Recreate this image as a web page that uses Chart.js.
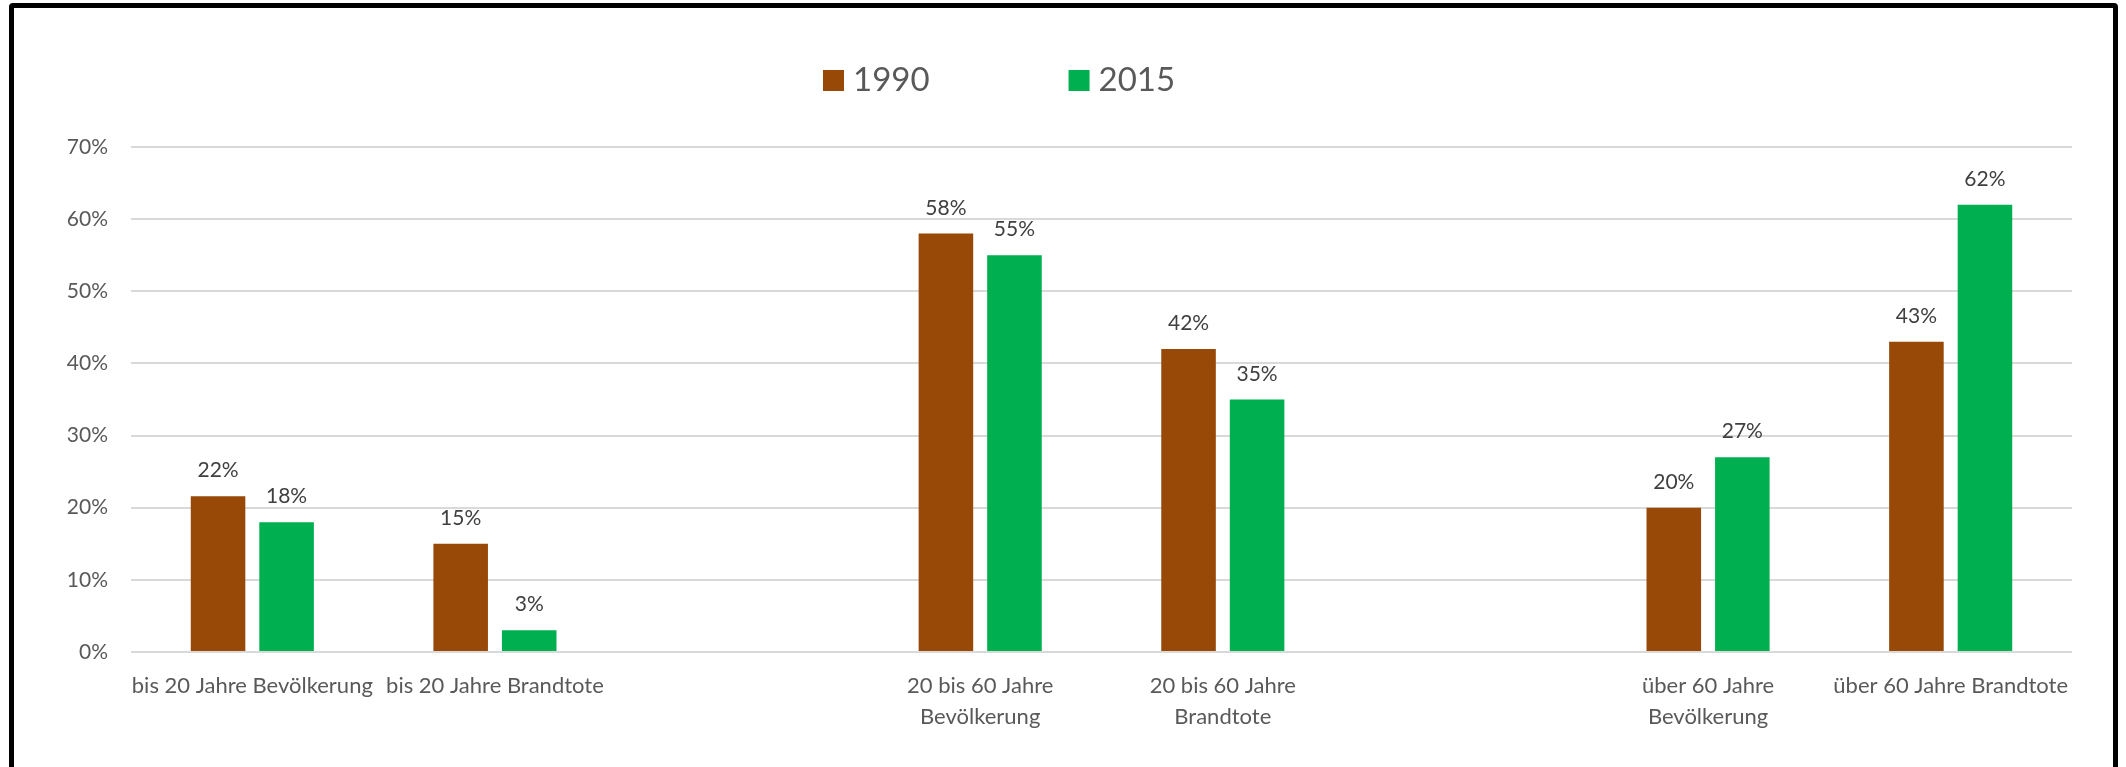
<!DOCTYPE html>
<html lang="de">
<head>
<meta charset="utf-8">
<title>Brandtote nach Altersgruppen 1990 / 2015</title>
<script src="https://cdn.jsdelivr.net/npm/chart.js@4.4.1/dist/chart.umd.min.js"></script>
<style>
    html, body { margin: 0; padding: 0; background: #fff; overflow: hidden; }
    body { width: 2126px; height: 767px; position: relative; }
    .frame {
        position: absolute; left: 9px; top: 3px;
        width: 2099px; height: 800px;
        border: 5px solid #000; border-radius: 4px;
        background: #fff;
    }
    #chart { position: absolute; left: 0; top: 0; }
</style>
</head>
<body>
<div class="frame">
    <canvas id="chart" width="2099" height="759"></canvas>
</div>
<script>
// 1. Data
const categories = [
    'bis 20 Jahre Bevölkerung',
    'bis 20 Jahre Brandtote',
    '',
    ['20 bis 60 Jahre', 'Bevölkerung'],
    ['20 bis 60 Jahre', 'Brandtote'],
    '',
    ['über 60 Jahre', 'Bevölkerung'],
    'über 60 Jahre Brandtote'
];
const seriesNames = ['1990', '2015'];
const values1990 = [21.6, 15, null, 58, 42, null, 20, 43];
const values2015 = [18, 3, null, 55, 35, null, 27, 62];
const yTicks = [0, 10, 20, 30, 40, 50, 60, 70];

const BROWN = '#984807';
const GREEN = '#00B050';
const FONT = 'Lato';

// 2. Plugins: value labels above bars, legend row at the top
const valueLabels = {
    id: 'valueLabels',
    afterDatasetsDraw(chart) {
        const { ctx } = chart;
        ctx.save();
        ctx.font = `21px ${FONT}`;
        ctx.fillStyle = '#404040';
        ctx.textAlign = 'center';
        ctx.textBaseline = 'alphabetic';
        chart.data.datasets.forEach((ds, i) => {
            chart.getDatasetMeta(i).data.forEach((bar, j) => {
                const v = ds.data[j];
                if (v == null) return;
                ctx.fillText(Math.round(v) + '%', bar.x, bar.y - 19);
            });
        });
        ctx.restore();
    }
};

const legendRow = {
    id: 'legendRow',
    afterDraw(chart) {
        const { ctx } = chart;
        const y = 72.5;
        let x = 809;
        ctx.save();
        ctx.font = `33px ${FONT}`;
        ctx.textBaseline = 'middle';
        ctx.textAlign = 'left';
        chart.data.datasets.forEach(ds => {
            ctx.fillStyle = ds.backgroundColor;
            ctx.fillRect(x, y - 10.5, 21, 21);
            ctx.fillStyle = '#595959';
            ctx.fillText(ds.label, x + 30, y);
            x += 30 + ctx.measureText(ds.label).width + 139;
        });
        ctx.restore();
    }
};

// 3. Chart
const ctx = document.getElementById('chart').getContext('2d');
new Chart(ctx, {
    type: 'bar',
    data: {
        labels: categories,
        datasets: [
            { label: seriesNames[0], data: values1990, backgroundColor: BROWN },
            { label: seriesNames[1], data: values2015, backgroundColor: GREEN }
        ]
    },
    options: {
        responsive: false,
        animation: false,
        layout: { padding: { top: 139, right: 41, bottom: 0, left: 0 } },
        datasets: {
            bar: { categoryPercentage: 0.565, barPercentage: 0.796, borderWidth: 0 }
        },
        plugins: {
            legend: { display: false },
            tooltip: { enabled: false }
        },
        scales: {
            x: {
                grid: { display: false },
                border: { display: false },
                ticks: {
                    color: '#595959',
                    font: { family: FONT, size: 22, lineHeight: 1.41 },
                    padding: 10,
                    maxRotation: 0,
                    minRotation: 0,
                    autoSkip: false
                },
                afterFit(scale) { scale.height = 115; }
            },
            y: {
                min: 0,
                max: 70,
                afterBuildTicks(scale) { scale.ticks = yTicks.map(v => ({ value: v })); },
                grid: { color: '#D9D9D9', lineWidth: 2, drawTicks: false },
                border: { display: false },
                ticks: {
                    color: '#595959',
                    font: { family: FONT, size: 21 },
                    padding: 23,
                    callback: v => v + '%'
                },
                afterFit(scale) { scale.width = 117; }
            }
        }
    },
    plugins: [valueLabels, legendRow]
});
</script>
</body>
</html>
